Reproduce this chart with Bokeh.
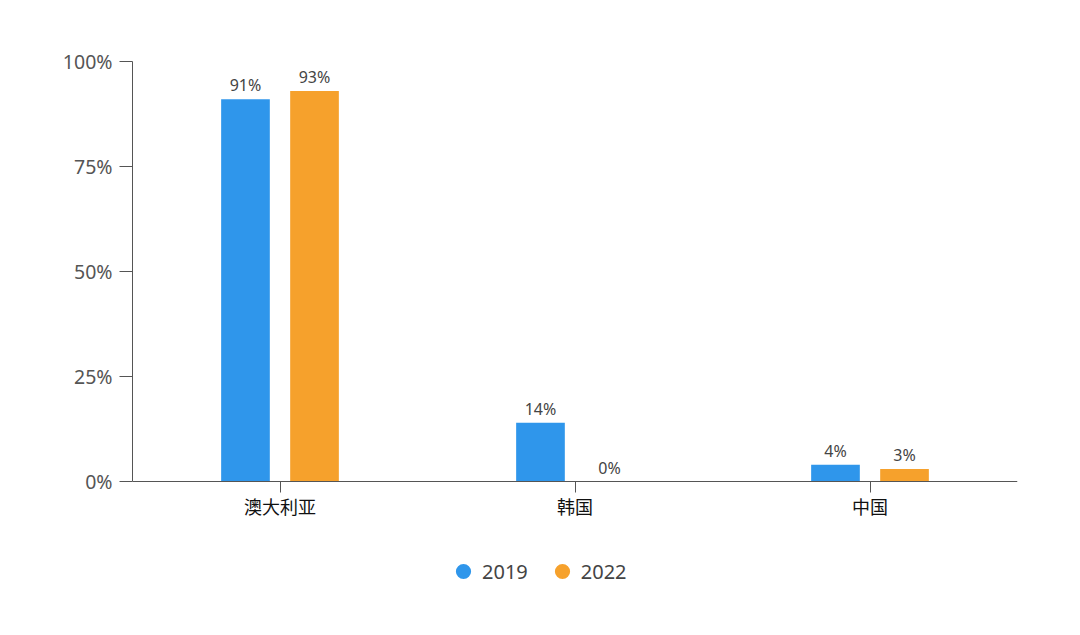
from bokeh.plotting import figure
from bokeh.models import (ColumnDataSource, FactorRange, NumeralTickFormatter, Legend, LegendItem,
                          FixedTicker, LabelSet, Range1d)
from bokeh.core.properties import value
from bokeh.transform import dodge
from bokeh.embed import file_html
from bokeh.resources import INLINE

categories = ["澳大利亚", "韩国", "中国"]
series_names = ["2019", "2022"]
values_2019 = [0.91, 0.14, 0.04]
values_2022 = [0.93, 0.00, 0.03]
y_ticks = [0, 0.25, 0.5, 0.75, 1.0]

colors = ["#2F96EB", "#F6A12C"]

src = ColumnDataSource(dict(
    cat=categories,
    v19=values_2019,
    v22=values_2022,
    l19=[f"{round(v*100)}%" for v in values_2019],
    l22=[f"{round(v*100)}%" for v in values_2022],
))

# frame: top at 61px, value 0 at 481px, frame bottom at 615px (extends below for legend)
y_bottom = -(615 - 481) / 420.0
p = figure(x_range=FactorRange(*categories, range_padding=0), y_range=Range1d(y_bottom, 1),
           width=1080, height=635, output_backend="svg", toolbar_location=None,
           min_border_left=132, min_border_right=63, min_border_top=61, min_border_bottom=20)
p.outline_line_color = None
p.xgrid.grid_line_color = None
p.ygrid.grid_line_color = None
p.background_fill_color = "white"
p.border_fill_color = "white"

w = 0.165
off = 0.117
r1 = p.vbar(x=dodge("cat", -off, range=p.x_range), top="v19", width=w, source=src,
            fill_color=colors[0], line_color=None)
r2 = p.vbar(x=dodge("cat", off, range=p.x_range), top="v22", width=w, source=src,
            fill_color=colors[1], line_color=None)

for col, lab, o in (("v19", "l19", -off), ("v22", "l22", off)):
    ls = LabelSet(x=dodge("cat", o, range=p.x_range), y=col, text=lab, source=src,
                  text_align="center", text_baseline="bottom", y_offset=3,
                  text_font=value("Noto Sans"), text_font_size="16px", text_color="#444444")
    p.add_layout(ls)

# y axis
p.yaxis.ticker = FixedTicker(ticks=y_ticks)
p.yaxis.bounds = (0, 1)
p.yaxis.formatter = NumeralTickFormatter(format="0%")
p.yaxis.major_label_text_font = "Noto Sans"
p.yaxis.major_label_text_font_size = "19.5px"
p.yaxis.major_label_text_color = "#555555"
p.yaxis.axis_line_color = "#555555"
p.yaxis.major_tick_line_color = "#555555"
p.yaxis.major_tick_out = 13
p.yaxis.major_tick_in = 0
p.yaxis.minor_tick_line_color = None
p.yaxis.major_label_standoff = 7

# x axis placed at y = 0
p.xaxis.fixed_location = 0
p.xaxis.major_label_text_font = "Noto Sans CJK SC"
p.xaxis.major_label_text_font_size = "18px"
p.xaxis.major_label_text_color = "#111111"
p.xaxis.axis_line_color = "#555555"
p.xaxis.major_tick_line_color = "#555555"
p.xaxis.major_tick_out = 11
p.xaxis.major_tick_in = 0
p.xaxis.major_label_standoff = 0

# legend with circle markers (legend marker diameter = 0.4 * glyph box)
dummy = ColumnDataSource(dict(x=[float("nan")], y=[float("nan")]))
d1 = p.scatter(x="x", y="y", source=dummy, marker="circle", size=17,
               fill_color=colors[0], line_color=None)
d2 = p.scatter(x="x", y="y", source=dummy, marker="circle", size=17,
               fill_color=colors[1], line_color=None)
legend = Legend(items=[LegendItem(label=series_names[0], renderers=[d1]),
                       LegendItem(label=series_names[1], renderers=[d2])],
                orientation="horizontal", location=(312, 23),
                label_text_font="Noto Sans", label_text_font_size="20px",
                label_text_color="#444444", glyph_width=38, glyph_height=42,
                spacing=15, label_standoff=0, border_line_color=None,
                background_fill_alpha=0, margin=0, padding=0)
p.add_layout(legend, "center")

open("out.html", "w").write(file_html(p, INLINE))
